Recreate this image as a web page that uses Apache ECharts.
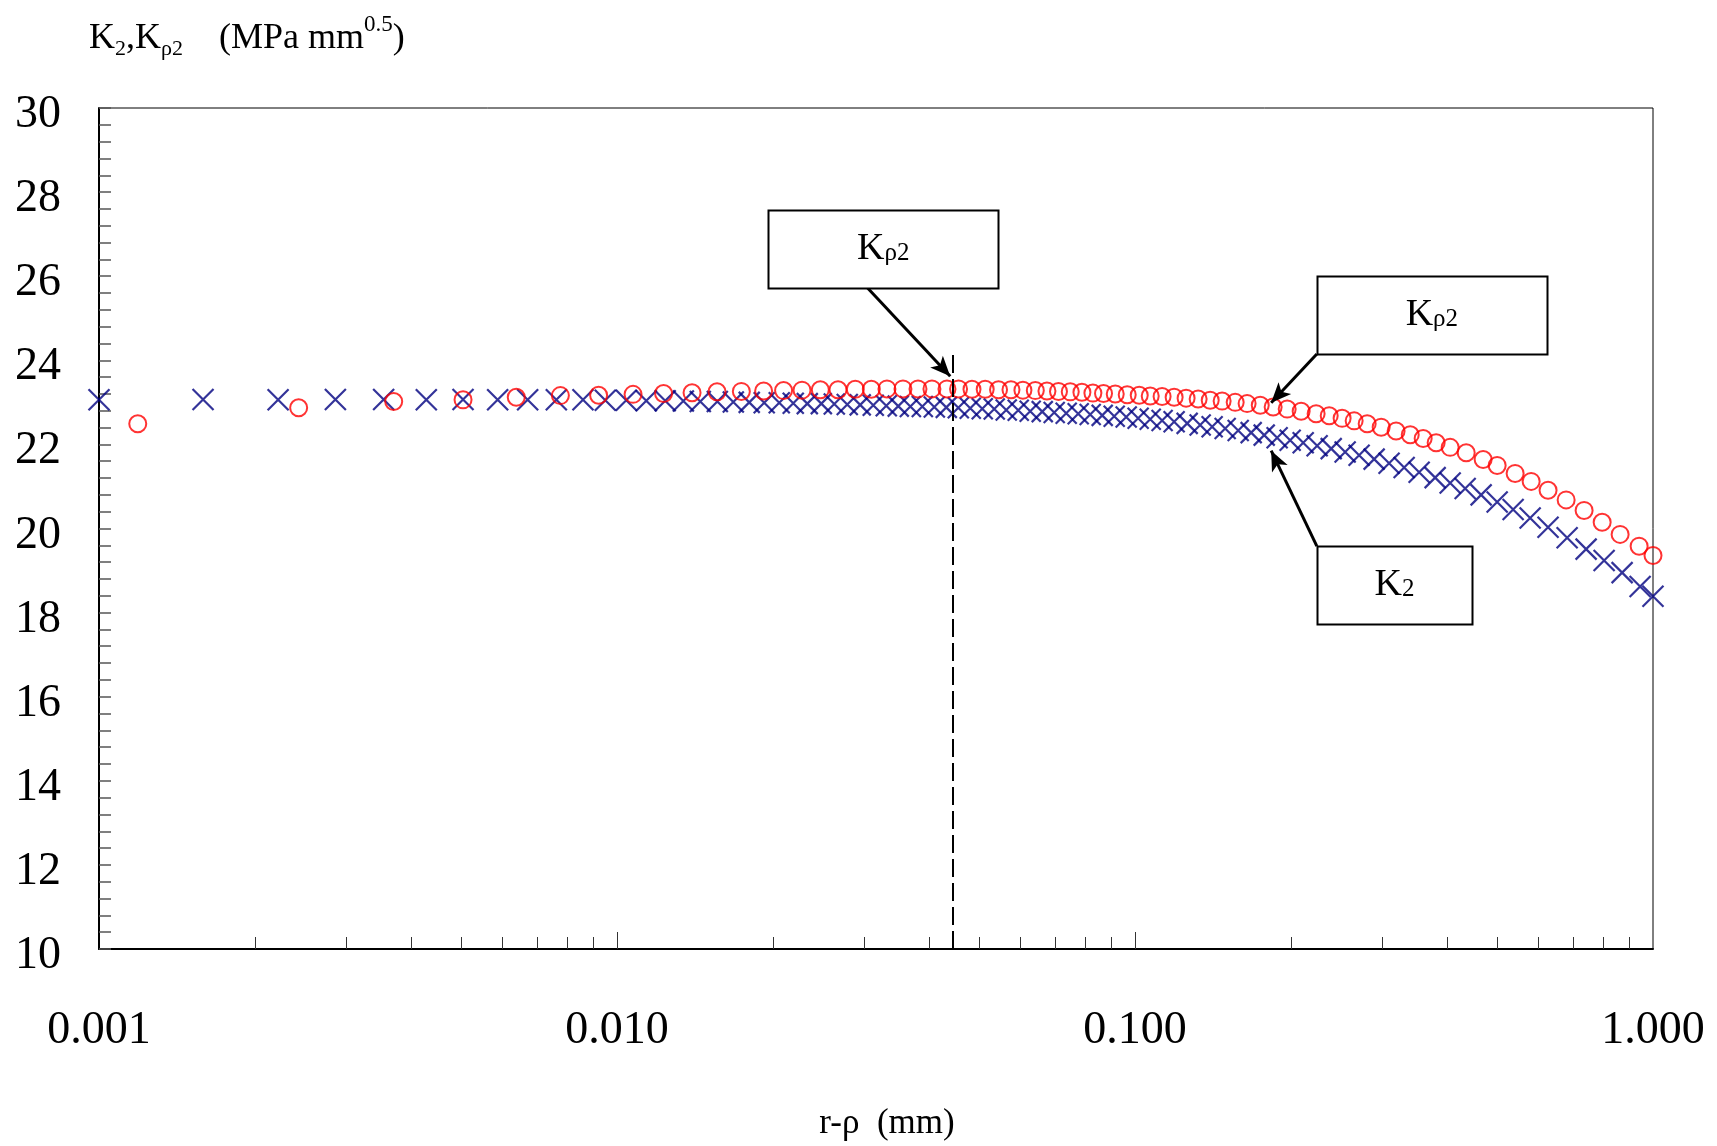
<!DOCTYPE html>
<html>
<head>
<meta charset="utf-8">
<script src="https://cdn.jsdelivr.net/npm/echarts@6/dist/echarts.min.js"></script>
<style>
html,body{margin:0;padding:0;background:#fff;}
#chart{width:1717px;height:1146px;}
</style>
</head>
<body>
<div id="chart"></div>
<script>
// K2 (blue crosses): r-rho (mm) and K2 (MPa mm^0.5)
const K2_X = [0.001, 0.001588, 0.002217, 0.00286, 0.003544, 0.004284, 0.005044, 0.005883, 0.006722, 0.007636, 0.008597, 0.009493,
  0.01042, 0.01139, 0.01239, 0.01343, 0.01448, 0.01562, 0.01677, 0.0180, 0.01924, 0.02057, 0.02189, 0.0233, 0.0248, 0.02627, 0.02783, 0.02948, 0.03124, 0.0331, 0.03491, 0.03684, 0.03885, 0.04098, 0.04322, 0.04559, 0.04808, 0.05071, 0.05349, 0.05642, 0.05951, 0.06276, 0.06621, 0.06983, 0.07365, 0.07769, 0.08194, 0.08643, 0.09117, 0.09616,
  0.1014, 0.107, 0.1128, 0.119, 0.1261, 0.1336, 0.1409, 0.1493, 0.1582, 0.1676, 0.1776, 0.1881, 0.1993, 0.2112, 0.2247, 0.2392, 0.2545, 0.2708, 0.2895, 0.3094, 0.3308, 0.3536, 0.3797, 0.4059, 0.4339, 0.4658, 0.5002, 0.537, 0.5792, 0.6272, 0.6827, 0.7428, 0.8047, 0.8717, 0.9443, 1.0];
const K2_Y = [23.06, 23.07, 23.06, 23.07, 23.07, 23.06, 23.07, 23.06, 23.06, 23.06, 23.06, 23.05,
  23.05, 23.04, 23.04, 23.03, 23.02, 23.02, 23.01, 23.00, 22.99, 22.99, 22.98, 22.97, 22.97, 22.96, 22.95, 22.94, 22.93, 22.92, 22.91, 22.90, 22.90, 22.89, 22.88, 22.87, 22.86, 22.85, 22.84, 22.82, 22.81, 22.79, 22.78, 22.76, 22.74, 22.73, 22.71, 22.69, 22.67, 22.65,
  22.62, 22.60, 22.57, 22.54, 22.50, 22.46, 22.42, 22.38, 22.33, 22.28, 22.22, 22.16, 22.10, 22.04, 21.97, 21.90, 21.82, 21.74, 21.65, 21.55, 21.45, 21.34, 21.21, 21.08, 20.95, 20.80, 20.63, 20.45, 20.25, 20.03, 19.78, 19.51, 19.24, 18.95, 18.62, 18.39];

// K rho2 (red circles)
const KRHO_X = [0.001188, 0.002429, 0.003706, 0.005044, 0.00639, 0.007775, 0.009215,
  0.01074, 0.0123, 0.01396, 0.0156, 0.01738, 0.01919, 0.02097, 0.02276, 0.02469, 0.02671, 0.02884, 0.03097, 0.0332, 0.03565, 0.03811, 0.04055, 0.04335, 0.04564, 0.04845, 0.05138, 0.05452, 0.05762, 0.06076, 0.0642, 0.06761, 0.07117, 0.07499, 0.07898, 0.08293, 0.08694, 0.09159, 0.0966,
  0.1019, 0.107, 0.1128, 0.119, 0.1255, 0.1324, 0.1397, 0.1473, 0.1561, 0.1646, 0.1745, 0.1848, 0.1967, 0.2093, 0.2237, 0.2371, 0.2511, 0.2649, 0.2807, 0.2987, 0.3192, 0.3399, 0.36, 0.3814, 0.4059, 0.4359, 0.47, 0.5002, 0.5418, 0.5818, 0.6272, 0.6797, 0.7362, 0.7977, 0.864, 0.9402, 1.0];
const KRHO_Y = [22.49, 22.87, 23.02, 23.06, 23.12, 23.16, 23.17,
  23.19, 23.21, 23.23, 23.25, 23.26, 23.27, 23.28, 23.29, 23.30, 23.30, 23.31, 23.31, 23.32, 23.32, 23.32, 23.32, 23.32, 23.32, 23.31, 23.31, 23.30, 23.30, 23.29, 23.28, 23.27, 23.26, 23.25, 23.24, 23.22, 23.21, 23.20, 23.18,
  23.17, 23.15, 23.14, 23.12, 23.10, 23.08, 23.05, 23.03, 23.00, 22.97, 22.93, 22.89, 22.84, 22.79, 22.73, 22.68, 22.62, 22.56, 22.49, 22.41, 22.32, 22.23, 22.14, 22.04, 21.93, 21.80, 21.64, 21.50, 21.31, 21.12, 20.91, 20.68, 20.43, 20.15, 19.86, 19.58, 19.36];

// axis ticks
const X_MINOR_TICKS = [0.002,0.003,0.004,0.005,0.006,0.007,0.008,0.009,0.02,0.03,0.04,0.05,0.06,0.07,0.08,0.09,0.2,0.3,0.4,0.5,0.6,0.7,0.8,0.9];
const X_MAJOR_TICKS = [0.01, 0.1];
const Y_MIN = 10, Y_MAX = 30, Y_STEP = 2;

// annotations (data coordinates)
const MARK_X = 0.0444, MARK_TOP = 24.16;
const BOXES = [
  {coord: [0.03266, 26.65], size: [230, 78], main: 'K', sub: 'ρ2'},
  {coord: [0.3742, 25.07], size: [230, 78], main: 'K', sub: 'ρ2'},
  {coord: [0.3168, 18.66], size: [155, 78], main: 'K', sub: '2'}
];
const ARROWS = [
  [[0.0304, 25.73], [0.04398, 23.62]],
  [[0.2244, 24.15], [0.1832, 22.99]],
  [[0.2244, 19.58], [0.1832, 21.85]]
];

const SERIF = "'Liberation Serif', 'Times New Roman', serif";
const chart = echarts.init(document.getElementById('chart'), null, {renderer: 'canvas'});

const arrowData = ARROWS.map(a => [
  {coord: a[0], symbol: 'none'},
  {coord: a[1], symbol: 'arrow', symbolSize: [13, 20]}
]);

const option = {
  animation: false,
  backgroundColor: '#fff',
  title: {
    left: 84, top: 6,
    text: '{m|K}{s|2}{m|,K}{s|ρ2}{m|    (MPa mm}{p|0.5}{m|)}',
    textStyle: {
      fontWeight: 'normal',
      rich: {
        m: {fontFamily: SERIF, fontWeight: 'normal', fontSize: 36, color: '#000', lineHeight: 56, verticalAlign: 'middle'},
        s: {fontFamily: SERIF, fontWeight: 'normal', fontSize: 22, color: '#000', lineHeight: 22, verticalAlign: 'bottom', padding: [0, 0, 7, 0]},
        p: {fontFamily: SERIF, fontWeight: 'normal', fontSize: 23, color: '#000', lineHeight: 23, verticalAlign: 'top', padding: [2, 0, 0, 0]}
      }
    }
  },
  grid: {left: 99, right: 64, top: 108, bottom: 196, show: true, borderColor: '#000', borderWidth: 1, backgroundColor: 'transparent'},
  xAxis: [{
    type: 'log', logBase: 10, min: 0.001, max: 1,
    name: 'r-ρ  (mm)', nameLocation: 'middle', nameGap: 157,
    nameTextStyle: {fontFamily: SERIF, fontSize: 35, color: '#000', padding: [0, 0, 0, 22]},
    axisLine: {show: true, onZero: false, lineStyle: {color: '#000', width: 2}},
    axisTick: {show: true, inside: true, length: 12, customValues: X_MINOR_TICKS, lineStyle: {color: '#333', width: 1}},
    minorTick: {show: false},
    splitLine: {show: false},
    axisLabel: {fontFamily: SERIF, fontSize: 46, color: '#000', margin: 59, formatter: v => Number(v).toFixed(3)}
  }, {
    type: 'log', logBase: 10, min: 0.001, max: 1, position: 'bottom',
    axisLine: {show: false},
    axisTick: {show: true, inside: true, length: 17, customValues: X_MAJOR_TICKS, lineStyle: {color: '#333', width: 1}},
    axisLabel: {show: false},
    splitLine: {show: false}
  }],
  yAxis: {
    type: 'value', min: Y_MIN, max: Y_MAX, interval: Y_STEP,
    axisLine: {show: true, onZero: false, lineStyle: {color: '#000', width: 2}},
    axisTick: {show: true, inside: true, length: 12, lineStyle: {color: '#555', width: 1.5}},
    minorTick: {show: true, splitNumber: 5, length: 12, lineStyle: {color: '#555', width: 1.5}},
    splitLine: {show: false},
    axisLabel: {fontFamily: SERIF, fontSize: 46, color: '#000', margin: 38, verticalAlign: 'top', lineHeight: 14}
  },
  series: [{
    name: 'K2', type: 'scatter', xAxisIndex: 0,
    data: K2_X.map((x, i) => [x, K2_Y[i]]),
    symbol: 'path://M0,0L10,10M10,0L0,10',
    symbolSize: 21,
    itemStyle: {color: 'transparent', borderColor: '#000080', borderWidth: 2.2},
    z: 2
  }, {
    name: 'Kρ2', type: 'scatter', xAxisIndex: 0,
    data: KRHO_X.map((x, i) => [x, KRHO_Y[i]]),
    symbol: 'circle',
    symbolSize: 17,
    itemStyle: {color: 'transparent', borderColor: '#ff0000', borderWidth: 2},
    z: 3,
    markLine: {
      silent: true, animation: false,
      label: {show: false},
      data: [
        [{coord: [MARK_X, Y_MIN], symbol: 'none', lineStyle: {type: [18, 6], width: 2, color: '#000'}},
         {coord: [MARK_X, MARK_TOP], symbol: 'none'}]
      ].concat(arrowData),
      lineStyle: {color: '#000', width: 3, type: 'solid'}
    }
  }]
};
chart.setOption(option);

// annotation boxes placed from data coordinates through the chart's own axes
const boxGraphics = [];
BOXES.forEach(b => {
  const p = chart.convertToPixel({xAxisIndex: 0, yAxisIndex: 0}, b.coord);
  const w = b.size[0], h = b.size[1];
  boxGraphics.push({
    type: 'rect', z: 100,
    shape: {x: Math.round(p[0] - w / 2) + 0.5, y: Math.round(p[1] - h / 2) + 0.5, width: w, height: h},
    style: {fill: '#fff', stroke: '#000', lineWidth: 2}
  });
  boxGraphics.push({
    type: 'text', z: 101,
    x: p[0], y: p[1],
    style: {
      text: '{m|' + b.main + '}{s|' + b.sub + '}',
      align: 'center', verticalAlign: 'middle',
      rich: {
        m: {fontFamily: SERIF, fontSize: 38, fill: '#000', lineHeight: 44, verticalAlign: 'middle'},
        s: {fontFamily: SERIF, fontSize: 25, fill: '#000', lineHeight: 25, verticalAlign: 'bottom', padding: [0, 0, 5, 0]}
      }
    }
  });
});
chart.setOption({graphic: boxGraphics});
</script>
</body>
</html>
